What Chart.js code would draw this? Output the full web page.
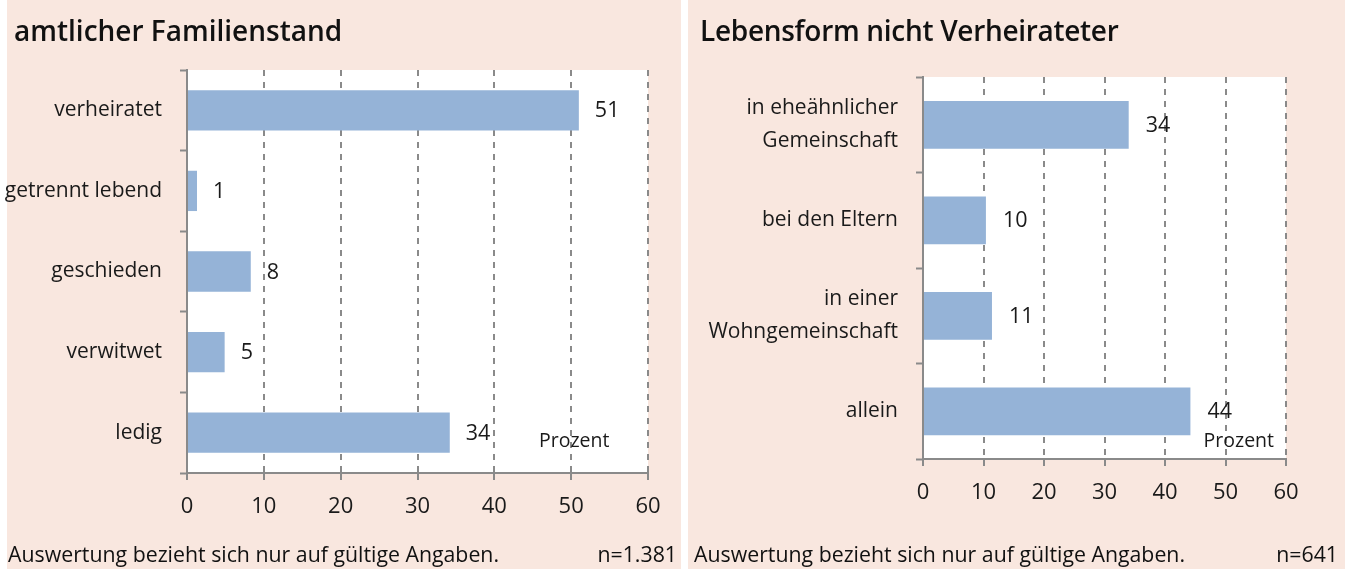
<!DOCTYPE html>
<html lang="de">
<head>
<meta charset="utf-8">
<script src="https://cdn.jsdelivr.net/npm/chart.js@4.4.0/dist/chart.umd.min.js"></script>
<style>
  html, body { margin: 0; padding: 0; background: #fff; }
  body { width: 1347px; height: 569px; position: relative; overflow: hidden; }
  .panel { position: absolute; top: 0; height: 569px; background: #f9e7df; }
  .panel canvas { position: absolute; top: 0; }
  .title { position: absolute; top: 11px; font: 600 28px "Open Sans", sans-serif; color: #111; white-space: nowrap; }
  .note { position: absolute; top: 539px; font: 21.3px "Open Sans", sans-serif; color: #111; white-space: nowrap; }
</style>
</head>
<body>
<div class="panel" id="p1" style="left:7px;width:674px;">
  <canvas id="c1" width="681" height="569" style="left:-7px;"></canvas>
  <div class="title" style="left:7px;">amtlicher Familienstand</div>
  <div class="note" style="left:1px;">Auswertung bezieht sich nur auf gültige Angaben.</div>
  <div class="note" style="right:4px;">n=1.381</div>
</div>
<div class="panel" id="p2" style="left:688px;width:657px;">
  <canvas id="c2" width="657" height="569" style="left:0;"></canvas>
  <div class="title" style="left:12px;letter-spacing:-0.3px;">Lebensform nicht Verheirateter</div>
  <div class="note" style="left:6px;">Auswertung bezieht sich nur auf gültige Angaben.</div>
  <div class="note" style="right:7px;">n=641</div>
</div>
<script>
/* ===== data ===== */
const familyLabels = ['verheiratet', 'getrennt lebend', 'geschieden', 'verwitwet', 'ledig'];
const familyValues = [51.0, 1.3, 8.3, 4.9, 34.2];

const livingLabels = [['in eheähnlicher', 'Gemeinschaft'], 'bei den Eltern', ['in einer', 'Wohngemeinschaft'], 'allein'];
const livingValues = [34.0, 10.4, 11.4, 44.2];

const xTicks = [0, 10, 20, 30, 40, 50, 60];
const unitLabel = 'Prozent';

const BAR = '#95b3d7';
const AXIS = '#8a8a8a';
const TEXT = '#1a1a1a';
const FONT = '"Open Sans", sans-serif';

const plotBg = {
  id: 'plotBg',
  beforeDraw(chart) {
    const a = chart.chartArea, ctx = chart.ctx;
    ctx.save();
    ctx.fillStyle = '#ffffff';
    ctx.fillRect(a.left, a.top, a.right - a.left, a.bottom - a.top);
    ctx.restore();
  }
};

const valueLabels = {
  id: 'valueLabels',
  afterDatasetsDraw(chart, args, opts) {
    const ctx = chart.ctx;
    const meta = chart.getDatasetMeta(0);
    const data = chart.data.datasets[0].data;
    ctx.save();
    ctx.font = '21.5px ' + FONT;
    ctx.fillStyle = TEXT;
    ctx.textAlign = 'left';
    ctx.textBaseline = 'middle';
    meta.data.forEach((bar, i) => {
      ctx.fillText(String(Math.round(data[i])), bar.x + opts.offset, bar.y + 1);
    });
    // unit label
    const x = chart.scales.x.getPixelForValue(opts.unitAt);
    ctx.font = '19.5px ' + FONT;
    ctx.textAlign = 'center';
    ctx.fillText(unitLabel, x, chart.chartArea.bottom - opts.unitUp);
    ctx.restore();
  }
};

function makeChart(id, labels, values, cfg) {
  return new Chart(document.getElementById(id), {
    type: 'bar',
    data: {
      labels: labels,
      datasets: [{
        data: values,
        backgroundColor: BAR,
        borderWidth: 0,
        categoryPercentage: 1,
        barPercentage: cfg.barPct
      }]
    },
    plugins: [plotBg, valueLabels],
    options: {
      indexAxis: 'y',
      responsive: false,
      animation: false,
      layout: { padding: cfg.padding },
      plugins: {
        legend: { display: false },
        tooltip: { enabled: false },
        valueLabels: cfg.labels
      },
      scales: {
        x: {
          min: 0,
          max: 60,
          afterBuildTicks: s => { s.ticks = xTicks.map(v => ({ value: v })); },
          afterFit: s => { s.height = 60; },
          border: { display: true, color: AXIS, width: 2, dash: [6, 6] },
          grid: {
            color: c => (c.tick && c.tick.value === 0) ? 'rgba(0,0,0,0)' : AXIS,
            lineWidth: 2,
            drawTicks: true,
            tickLength: 7,
            tickColor: AXIS,
            tickWidth: 2,
            tickBorderDash: []
          },
          ticks: { color: TEXT, font: { family: FONT, size: 22 }, padding: 14, maxRotation: 0 }
        },
        y: {
          afterFit: s => { s.width = cfg.yWidth; },
          border: { display: true, color: AXIS, width: 2 },
          grid: {
            offset: true,
            drawOnChartArea: false,
            drawTicks: true,
            tickLength: 7,
            tickColor: AXIS,
            tickWidth: 2
          },
          ticks: { color: TEXT, font: { family: FONT, size: 21, lineHeight: 1.55 }, padding: 18 }
        }
      }
    }
  });
}

document.addEventListener('DOMContentLoaded', () => {
  makeChart('c1', familyLabels, familyValues, {
    barPct: 0.5,
    yWidth: 187,
    padding: { left: 0, right: 33, top: 70, bottom: 36 },
    labels: { offset: 16, unitAt: 50.4, unitUp: 32 }
  });
  makeChart('c2', livingLabels, livingValues, {
    barPct: 0.5,
    yWidth: 235,
    padding: { left: 0, right: 59, top: 77, bottom: 50 },
    labels: { offset: 17, unitAt: 52.2, unitUp: 18 }
  });
});
</script>
</body>
</html>
